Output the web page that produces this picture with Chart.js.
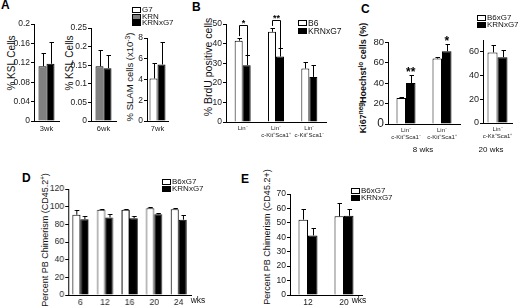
<!DOCTYPE html>
<html>
<head>
<meta charset="utf-8">
<script src="https://cdn.jsdelivr.net/npm/chart.js@4.4.1/dist/chart.umd.min.js"></script>
<style>
  body { margin: 0; background: #fff; }
  #fig { position: relative; width: 520px; height: 306px; overflow: hidden;
         font-family: 'Liberation Sans', Arial, sans-serif; color: #111; }
  canvas { position: absolute; }
  .txt { position: absolute; white-space: nowrap; line-height: 1; color: #111;
         transform: translate(-50%, -50%); will-change: transform; }
  .ytitle { position: absolute; white-space: nowrap; line-height: 1; color: #111;
            transform: translate(-50%, -50%) rotate(-90deg); }
  .ytitle sup, .txt sup { font-size: 70%; vertical-align: 0.45em; line-height: 0; }
  .letter { position: absolute; font-weight: bold; font-size: 12px; line-height: 1; color: #000; }
  .leg { position: absolute; font-size: 8px; line-height: 1; color: #111; will-change: transform; }
  .leg div { display: flex; align-items: center; height: 6.5px; }
  .leg .box { display: inline-block; width: 7px; height: 4px; border: 1px solid #000; margin-right: 1px; }
</style>
</head>
<body>
<div id="fig">
  <div class="letter" style="left:1px;top:-1px">A</div>
  <div class="letter" style="left:192px;top:1px">B</div>
  <div class="letter" style="left:361px;top:3px">C</div>
  <div class="letter" style="left:22px;top:172px">D</div>
  <div class="letter" style="left:241px;top:173px">E</div>

  <div class="ytitle" style="left:12px;top:63px;font-size:10px">% KSL Cells</div>
  <div class="ytitle" style="left:70px;top:63px;font-size:10px">% KSL Cells</div>
  <div class="ytitle" style="left:130px;top:77px;font-size:9.5px">% SLAM cells (x10<sup>-3</sup>)</div>
  <div class="ytitle" style="left:208px;top:67px;font-size:10.5px">% BrdU positive cells</div>
  <div class="ytitle" style="left:363px;top:78px;font-size:9px;font-weight:bold">Ki67<sup>neg</sup>Hoechst<sup>lo</sup> cells (%)</div>
  <div class="ytitle" style="left:45px;top:240px;font-size:9px">Percent PB Chimerism (CD45.2<sup>+</sup>)</div>
  <div class="ytitle" style="left:267px;top:237px;font-size:9px">Percent PB Chimerism (CD45.2+)</div>

  <div class="txt" style="left:423px;top:150px;font-size:8px">8 wks</div>
  <div class="txt" style="left:491px;top:150px;font-size:8px">20 wks</div>
  <div class="txt" style="left:198px;top:300px;font-size:8.5px">wks</div>
  <div class="txt" style="left:359px;top:300px;font-size:8.5px">wks</div>

  <div class="leg" style="left:132px;top:7px">
    <div><span class="box" style="background:#fff"></span>G7</div>
    <div><span class="box" style="background:#808080"></span>KRN</div>
    <div><span class="box" style="background:#000"></span>KRNxG7</div>
  </div>
  <div class="leg" style="left:298px;top:19px;font-size:8.5px">
    <div style="height:8px"><span class="box" style="background:#fff"></span>B6</div>
    <div style="height:8px"><span class="box" style="background:#000"></span>KRNxG7</div>
  </div>
  <div class="leg" style="left:477px;top:15px">
    <div><span class="box" style="background:#fff"></span>B6xG7</div>
    <div><span class="box" style="background:#000"></span>KRNxG7</div>
  </div>
  <div class="leg" style="left:162px;top:179px">
    <div><span class="box" style="background:#fff"></span>B6xG7</div>
    <div><span class="box" style="background:#000"></span>KRNxG7</div>
  </div>
  <div class="leg" style="left:351px;top:188px">
    <div><span class="box" style="background:#fff"></span>B6xG7</div>
    <div><span class="box" style="background:#000"></span>KRNxG7</div>
  </div>
</div>

<script>
// ---- data (means and error-bar heights) ----

// A: KSL / SLAM cells
const a1Labels = ['3wk'];
const a1KRN = [0.113], a1KRNErr = [0.027];
const a1KRNxG7 = [0.118], a1KRNxG7Err = [0.045];

const a2Labels = ['6wk'];
const a2KRN = [0.147], a2KRNErr = [0.043];
const a2KRNxG7 = [0.142], a2KRNxG7Err = [0.036];

const a3Labels = ['7wk'];
const a3G7 = [4.1], a3G7Err = [1.5];
const a3KRNxG7 = [5.45], a3KRNxG7Err = [2.15];

// B: BrdU positive cells
const bLabels = [['Lin\u207B'], ['Lin\u207B', 'c-Kit\u207ASca1\u207A'], ['Lin\u207B', 'c-Kit\u207ASca1\u207B']];
const bB6 = [41.5, 46, 27.3], bB6Err = [1.3, 2, 3.5];
const bKRNxG7 = [29, 33.4, 23], bKRNxG7Err = [5, 4.3, 6];
const bBrackets = [{ group: 0, level: 49.5, text: '*' }, { group: 1, level: 52, text: '**' }];

// C: Ki67neg Hoechstlo cells
const c1Labels = [['Lin\u207B', 'c-Kit\u207ASca1\u207B'], ['Lin\u207B', 'c-Kit\u207ASca1\u207A']];
const c1B6xG7 = [25.4, 63.8], c1B6xG7Err = [0.8, 1.2];
const c1KRNxG7 = [40, 71], c1KRNxG7Err = [7.5, 7];
const c1Stars = [{ series: 1, group: 0, level: 52, text: '**' }, { series: 1, group: 1, level: 82, text: '*' }];

const c2Labels = [['Lin\u207B', 'c-Kit\u207ASca1\u207A']];
const c2B6xG7 = [59.5], c2B6xG7Err = [6.5];
const c2KRNxG7 = [55.5], c2KRNxG7Err = [5.8];

// D: PB chimerism over time
const dLabels = ['6', '12', '16', '20', '24'];
const dB6xG7 = [90.8, 96.5, 96.5, 98.3, 97.2], dB6xG7Err = [5.7, 1.1, 0.8, 0.8, 1.1];
const dKRNxG7 = [85.8, 87.8, 86.9, 91.4, 85.2], dKRNxG7Err = [4.2, 3.8, 2, 1.8, 5.6];

// E: PB chimerism
const eLabels = ['12', '20'];
const eB6xG7 = [52.2, 54.5], eB6xG7Err = [7.6, 9.2];
const eKRNxG7 = [41.3, 54.9], eKRNxG7Err = [5.1, 4.9];

const WHITE = '#ffffff', GREY = '#808080', BLACK = '#000000';
const FONT = "'Liberation Sans', Arial, sans-serif";
const Y_W = 36, X_H = 26, PAD_R = 8;

// error bars, brackets and stars drawn on top of the bars
const errorBarPlugin = {
  id: 'errorBars',
  afterDatasetsDraw(chart, args, opts) {
    const ctx = chart.ctx, y = chart.scales.y;
    const ds = chart.data.datasets;
    ctx.save();
    ctx.strokeStyle = '#000';
    ctx.fillStyle = '#000';
    ctx.lineWidth = 1;
    ds.forEach((d, di) => {
      chart.getDatasetMeta(di).data.forEach((bar, i) => {
        const v = d.data[i], e = d.errors[i];
        if (v == null || !e) return;
        const x = Math.round(bar.x) + 0.5;
        const yt = Math.round(y.getPixelForValue(v + e)) + 0.5;
        ctx.beginPath();
        ctx.moveTo(x, bar.y);
        ctx.lineTo(x, yt);
        ctx.moveTo(x - 2, yt);
        ctx.lineTo(x + 2.5, yt);
        ctx.stroke();
      });
    });
    ctx.font = 'bold 9px ' + FONT;
    ctx.textAlign = 'center';
    (opts.brackets || []).forEach(b => {
      const g = b.group;
      const x0 = Math.round(chart.getDatasetMeta(0).data[g].x) + 0.5;
      const x1 = Math.round(chart.getDatasetMeta(1).data[g].x) + 0.5;
      const yl = Math.round(y.getPixelForValue(b.level)) + 0.5;
      const y0 = y.getPixelForValue(ds[0].data[g] + ds[0].errors[g]) - 2;
      const y1 = y.getPixelForValue(ds[1].data[g] + ds[1].errors[g]);
      ctx.beginPath();
      ctx.moveTo(x0, y0); ctx.lineTo(x0, yl); ctx.lineTo(x1, yl); ctx.lineTo(x1, y1);
      ctx.stroke();
      ctx.textBaseline = 'bottom';
      ctx.fillText(b.text, (x0 + x1) / 2, yl + 3);
    });
    ctx.font = 'bold 12px ' + FONT;
    (opts.stars || []).forEach(s => {
      const bar = chart.getDatasetMeta(s.series).data[s.group];
      ctx.textBaseline = 'middle';
      ctx.fillText(s.text, bar.x, y.getPixelForValue(s.level) + 2);
    });
    ctx.restore();
  }
};

// area: pixel box of the plot (x0 = y axis, top = y max, zero = x axis)
function makePanel(area, cfg) {
  const padTop = cfg.padTop || 7;
  const left = area.x0 - Y_W, top = area.top - padTop;
  const w = area.x1 - left + PAD_R, h = area.zero - top + X_H;
  const cv = document.createElement('canvas');
  cv.width = w; cv.height = h;
  cv.style.left = left + 'px'; cv.style.top = top + 'px';
  cv.style.width = w + 'px'; cv.style.height = h + 'px';
  document.getElementById('fig').appendChild(cv);

  return new Chart(cv, {
    type: 'bar',
    data: {
      labels: cfg.labels,
      datasets: cfg.series.map(s => ({
        data: s.data,
        errors: s.err,
        backgroundColor: s.color,
        borderColor: '#000',
        borderWidth: 1,
        barPercentage: 1,
        categoryPercentage: cfg.catPct
      }))
    },
    options: {
      responsive: false,
      animation: false,
      devicePixelRatio: 1,
      layout: { padding: { top: padTop, right: PAD_R, left: 0, bottom: 0 } },
      plugins: {
        legend: { display: false },
        tooltip: { enabled: false },
        errorBars: { brackets: cfg.brackets, stars: cfg.stars }
      },
      scales: {
        x: {
          grid: { display: false, drawTicks: false },
          border: { display: true, color: '#000', width: 1 },
          ticks: {
            autoSkip: false, maxRotation: 0, padding: cfg.xPad || 3,
            font: { family: FONT, size: cfg.xSize || 8 }, color: '#222'
          },
          afterFit: s => { s.height = X_H; }
        },
        y: {
          min: 0, max: cfg.yMax,
          grid: { display: true, drawOnChartArea: false, drawTicks: true, tickLength: 3, color: '#000' },
          border: { display: true, color: '#000', width: 1 },
          ticks: {
            stepSize: cfg.yStep, padding: 1, color: '#222',
            font: cfg.yFont || { family: FONT, size: 8.5 },
            callback: v => String(+v.toFixed(3))
          },
          afterFit: s => { s.width = Y_W; }
        }
      }
    },
    plugins: [errorBarPlugin]
  });
}

makePanel({ x0: 34, x1: 59, top: 24, zero: 121 }, {
  labels: a1Labels, yMax: 0.2, yStep: 0.04, catPct: 16 / 25, xSize: 7.5,
  series: [{ data: a1KRN, err: a1KRNErr, color: GREY }, { data: a1KRNxG7, err: a1KRNxG7Err, color: BLACK }]
});
makePanel({ x0: 91, x1: 116, top: 28, zero: 121 }, {
  labels: a2Labels, yMax: 0.25, yStep: 0.05, catPct: 16 / 25, xSize: 7.5,
  series: [{ data: a2KRN, err: a2KRNErr, color: GREY }, { data: a2KRNxG7, err: a2KRNxG7Err, color: BLACK }]
});
makePanel({ x0: 147, x1: 168, top: 38, zero: 121 }, {
  labels: a3Labels, yMax: 8, yStep: 2, catPct: 16 / 21, xSize: 7.5,
  series: [{ data: a3G7, err: a3G7Err, color: WHITE }, { data: a3KRNxG7, err: a3KRNxG7Err, color: BLACK }]
});
makePanel({ x0: 226, x1: 326, top: 24, zero: 122 }, {
  labels: bLabels, yMax: 50, yStep: 5, catPct: 16 / 33.3, xSize: 6, padTop: 14,
  brackets: bBrackets,
  series: [{ data: bB6, err: bB6Err, color: WHITE }, { data: bKRNxG7, err: bKRNxG7Err, color: BLACK }]
});
makePanel({ x0: 388, x1: 460, top: 42, zero: 124 }, {
  labels: c1Labels, yMax: 80, yStep: 10, catPct: 19 / 36, xSize: 6, padTop: 10,
  yFont: ctx => ({ family: FONT, size: ctx.tick && ctx.tick.value === 0 ? 12 : 9.5 }),
  stars: c1Stars,
  series: [{ data: c1B6xG7, err: c1B6xG7Err, color: WHITE }, { data: c1KRNxG7, err: c1KRNxG7Err, color: BLACK }]
});
makePanel({ x0: 483, x1: 512, top: 40, zero: 123 }, {
  labels: c2Labels, yMax: 70, yStep: 10, catPct: 20 / 29, xSize: 6,
  yFont: { family: FONT, size: 9 },
  series: [{ data: c2B6xG7, err: c2B6xG7Err, color: WHITE }, { data: c2KRNxG7, err: c2KRNxG7Err, color: BLACK }]
});
makePanel({ x0: 68, x1: 190.5, top: 189, zero: 295 }, {
  labels: dLabels, yMax: 120, yStep: 20, catPct: 16 / 24.5, xSize: 8.5,
  series: [{ data: dB6xG7, err: dB6xG7Err, color: WHITE }, { data: dKRNxG7, err: dKRNxG7Err, color: BLACK }]
});
makePanel({ x0: 290, x1: 362, top: 194, zero: 295 }, {
  labels: eLabels, yMax: 70, yStep: 10, catPct: 19 / 36, xSize: 8.5,
  series: [{ data: eB6xG7, err: eB6xG7Err, color: WHITE }, { data: eKRNxG7, err: eKRNxG7Err, color: BLACK }]
});
</script>
</body>
</html>
